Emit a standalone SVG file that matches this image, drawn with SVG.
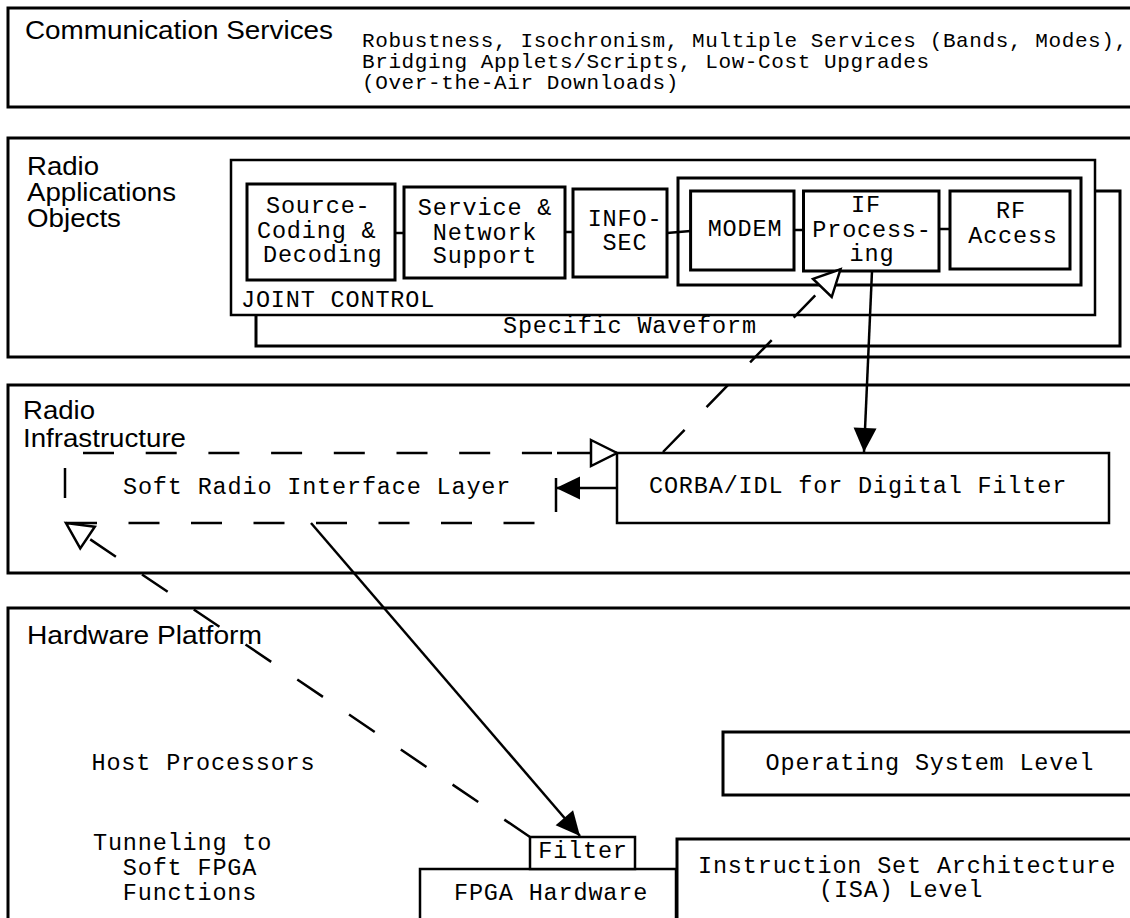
<svg xmlns="http://www.w3.org/2000/svg" width="1130" height="918" viewBox="0 0 1130 918">
  <defs>
    <style>
      .layer{fill:#fff;stroke:#000;stroke-width:3}
      .box{fill:#fff;stroke:#000;stroke-width:3}
      .thin{fill:#fff;stroke:#000;stroke-width:2.5}
      .sans{font-family:"Liberation Sans",Arial,sans-serif;font-size:25px;fill:#000}
      .mono{font-family:"Liberation Mono","Courier New",monospace;font-size:23.5px;letter-spacing:0.83px;fill:#000}
      .small{font-size:21px;letter-spacing:0.6px}
      .mid{text-anchor:middle}
      .wire{fill:none;stroke:#000;stroke-width:2.5}
      .dash{stroke-dasharray:31 31.5}
    </style>
    <marker id="solidHead" markerUnits="userSpaceOnUse" markerWidth="24" markerHeight="23" refX="24" refY="11.5" orient="auto" overflow="visible">
      <path d="M0,0 L24,11.5 L0,23 Z" fill="#000"/>
    </marker>
    <marker id="openHead" markerUnits="userSpaceOnUse" markerWidth="26" markerHeight="26" refX="26" refY="13" orient="auto" overflow="visible">
      <path d="M0,0 L26,13 L0,26 Z" fill="#fff" stroke="#000" stroke-width="2.5" stroke-linejoin="miter"/>
    </marker>
  </defs>

  <rect x="0" y="0" width="1130" height="918" fill="#fff"/>

  <!-- Layer 1: communication services -->
  <g id="layer-communication">
    <rect class="layer" x="8" y="8" width="1140" height="99"/>
    <text class="sans" x="25" y="39" textLength="308" lengthAdjust="spacingAndGlyphs">Communication Services</text>
    <text class="mono small" x="362" y="47">Robustness, Isochronism, Multiple Services (Bands, Modes),</text>
    <text class="mono small" x="362" y="68">Bridging Applets/Scripts, Low-Cost Upgrades</text>
    <text class="mono small" x="362" y="89">(Over-the-Air Downloads)</text>
  </g>

  <!-- Layer 2: radio application objects -->
  <g id="layer-applications">
    <rect class="layer" x="8" y="138" width="1140" height="219"/>
    <text class="sans" x="27" y="175" textLength="72" lengthAdjust="spacingAndGlyphs">Radio</text>
    <text class="sans" x="27" y="201" textLength="149" lengthAdjust="spacingAndGlyphs">Applications</text>
    <text class="sans" x="27" y="227" textLength="94" lengthAdjust="spacingAndGlyphs">Objects</text>
  </g>

  <g id="specific-waveform">
    <rect class="box" x="256" y="191" width="864" height="155"/>
    <text class="mono" x="503" y="333">Specific Waveform</text>
  </g>

  <g id="joint-control">
    <rect class="thin" x="231" y="160" width="864" height="155"/>
    <text class="mono" x="241" y="307">JOINT CONTROL</text>
  </g>

  <g id="rf-chain">
    <rect class="box" x="678" y="178" width="403" height="107"/>
  </g>

  <g id="source-coding">
    <rect class="box" x="247" y="184" width="148" height="96"/>
    <text class="mono" x="266" y="213">Source-</text>
    <text class="mono" x="257" y="238">Coding &amp;</text>
    <text class="mono" x="263" y="262">Decoding</text>
  </g>

  <g id="service-network">
    <rect class="box" x="404" y="187" width="161" height="91"/>
    <text class="mono mid" x="485" y="215">Service &amp;</text>
    <text class="mono mid" x="485" y="240">Network</text>
    <text class="mono mid" x="485" y="263">Support</text>
  </g>

  <g id="infosec">
    <rect class="box" x="573" y="189" width="94" height="88"/>
    <text class="mono mid" x="625" y="226">INFO-</text>
    <text class="mono mid" x="625" y="250">SEC</text>
  </g>

  <g id="modem">
    <rect class="box" x="690.6" y="191" width="103.4" height="79"/>
    <text class="mono mid" x="745" y="236">MODEM</text>
  </g>

  <g id="if-processing">
    <rect class="box" x="803.5" y="191" width="135.5" height="80"/>
    <text class="mono mid" x="866" y="212">IF</text>
    <text class="mono mid" x="872" y="237">Process-</text>
    <text class="mono mid" x="872" y="261">ing</text>
  </g>

  <g id="rf-access">
    <rect class="box" x="950" y="191" width="120" height="78"/>
    <text class="mono mid" x="1011" y="218">RF</text>
    <text class="mono mid" x="1013" y="243">Access</text>
  </g>

  <!-- Layer 3: radio infrastructure -->
  <g id="layer-infrastructure">
    <rect class="layer" x="8" y="385" width="1140" height="188"/>
    <text class="sans" x="23" y="419" textLength="72" lengthAdjust="spacingAndGlyphs">Radio</text>
    <text class="sans" x="23" y="447" textLength="163" lengthAdjust="spacingAndGlyphs">Infrastructure</text>
  </g>

  <g id="soft-radio-interface">
    <text class="mono" x="123" y="494">Soft Radio Interface Layer</text>
  </g>

  <g id="corba-idl">
    <rect class="thin" x="617" y="453" width="492" height="70"/>
    <text class="mono" x="649" y="493">CORBA/IDL for Digital Filter</text>
  </g>

  <!-- Layer 4: hardware platform -->
  <g id="layer-hardware">
    <rect class="layer" x="8" y="608" width="1140" height="330"/>
    <text class="sans" x="27" y="644" textLength="235" lengthAdjust="spacingAndGlyphs">Hardware Platform</text>
  </g>

  <g id="host-processors">
    <text class="mono" x="91.5" y="770">Host Processors</text>
  </g>

  <g id="tunneling">
    <text class="mono" x="93" y="850">Tunneling to</text>
    <text class="mono" x="122.8" y="875">Soft FPGA</text>
    <text class="mono" x="122.8" y="900">Functions</text>
  </g>

  <g id="os-level">
    <rect class="box" x="723" y="732" width="420" height="63"/>
    <text class="mono" x="765.6" y="770">Operating System Level</text>
  </g>

  <g id="isa-level">
    <rect class="box" x="677" y="839" width="470" height="100"/>
    <text class="mono" x="698" y="873">Instruction Set Architecture</text>
    <text class="mono" x="819" y="897">(ISA) Level</text>
  </g>

  <g id="fpga-hardware">
    <rect class="thin" x="420" y="869" width="256" height="70"/>
    <text class="mono" x="454" y="900">FPGA Hardware</text>
  </g>

  <g id="filter">
    <rect class="thin" x="530" y="837" width="105" height="32"/>
    <text class="mono mid" x="583" y="858">Filter</text>
  </g>

  <!-- Connectors -->
  <g id="connectors">
    <!-- waveform chain links -->
    <path class="wire" d="M395,233 H404"/>
    <path class="wire" d="M565,232 H573"/>
    <path class="wire" d="M667,233 L690.6,231"/>
    <path class="wire" d="M794,230 H803.5"/>
    <path class="wire" d="M939,229 H950"/>

    <!-- IF processing down to CORBA/IDL -->
    <path class="wire" d="M872,271 L864,452" marker-end="url(#solidHead)"/>
    <!-- CORBA/IDL back up to IF processing -->
    <path class="wire dash" d="M663,452 L840.5,269.3" marker-end="url(#openHead)"/>

    <!-- soft radio interface layer outline -->
    <path class="wire" d="M83,453 H552" stroke-dasharray="31 31.7"/>
    <path class="wire" d="M557,453 H617" marker-end="url(#openHead)"/>
    <path class="wire dash" d="M66,523 H536"/>
    <path class="wire" d="M65,468 V498"/>
    <path class="wire" d="M556,478 V512"/>
    <path class="wire" d="M617,488 H556" marker-end="url(#solidHead)"/>

    <!-- interface layer down to the filter -->
    <path class="wire" d="M311,523 L580,836" marker-end="url(#solidHead)"/>
    <!-- filter tunnelled back up to the interface layer -->
    <path class="wire dash" d="M530,837 L66,523" marker-end="url(#openHead)"/>
  </g>
</svg>
